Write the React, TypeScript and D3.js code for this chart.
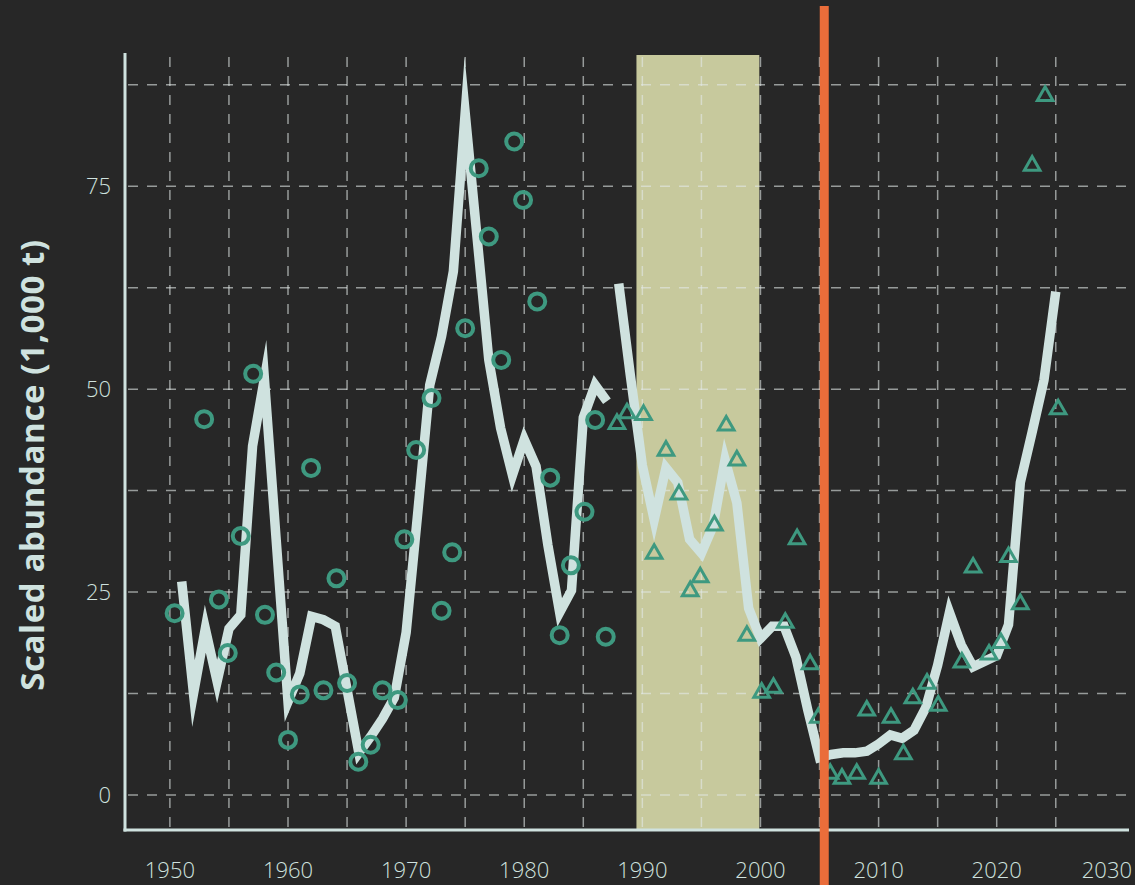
import React from 'react';
import * as d3 from 'd3';

// ---- data ----
const modelYearsA = [1951, 1952, 1953, 1954, 1955, 1956, 1957, 1958, 1959, 1960, 1961, 1962, 1963, 1964, 1965, 1966, 1967, 1968, 1969, 1970, 1971, 1972, 1973, 1974, 1975, 1976, 1977, 1978, 1979, 1980, 1981, 1982, 1983, 1984, 1985, 1986, 1987];
const modelValuesA = [26.3, 12.5, 20.5, 14.0, 20.5, 22.2, 43.0, 51.3, 31.4, 11.5, 15.0, 22.0, 21.6, 20.8, 13.0, 5.2, 7.2, 9.4, 12.0, 20.0, 35.0, 50.5, 56.5, 64.5, 84.0, 68.8, 53.6, 45.2, 39.4, 43.8, 40.5, 30.8, 22.5, 25.2, 46.5, 50.5, 48.5];

const modelYearsB = [1988, 1989, 1990, 1991, 1992, 1993, 1994, 1995, 1996, 1997, 1998, 1999, 2000, 2001, 2002, 2003, 2004, 2005, 2006, 2007, 2008, 2009, 2010, 2011, 2012, 2013, 2014, 2015, 2016, 2017, 2018, 2019, 2020, 2021, 2022, 2023, 2024, 2025];
const modelValuesB = [63.0, 51.5, 40.6, 33.9, 40.3, 38.5, 31.5, 29.8, 33.2, 41.3, 36.0, 23.0, 19.3, 20.8, 20.8, 17.0, 10.5, 4.6, 5.0, 5.2, 5.2, 5.4, 6.3, 7.4, 7.0, 8.0, 10.8, 16.0, 22.5, 18.5, 15.8, 16.5, 17.2, 21.0, 38.5, 44.7, 51.1, 62.0];

const circleYears = [1950.4, 1952.9, 1954.15, 1954.9, 1956.0, 1957.05, 1958.05, 1959.0, 1960.0, 1961.0, 1961.95, 1963.0, 1964.1, 1965.0, 1965.95, 1967.0, 1968.0, 1969.3, 1969.85, 1970.85, 1972.15, 1973.0, 1973.9, 1975.0, 1976.15, 1977.0, 1978.05, 1979.15, 1979.9, 1981.1, 1982.2, 1983.0, 1983.95, 1985.1, 1986.0, 1986.9];
const circleValues = [22.4, 46.3, 24.1, 17.5, 31.9, 51.9, 22.2, 15.1, 6.8, 12.4, 40.3, 12.9, 26.7, 13.8, 4.1, 6.2, 12.9, 11.7, 31.5, 42.5, 48.9, 22.7, 29.9, 57.5, 77.2, 68.8, 53.6, 80.5, 73.3, 60.8, 39.1, 19.7, 28.3, 34.9, 46.2, 19.5];

const triangleYears = [1987.85, 1988.7, 1990.1, 1991.0, 1992.0, 1993.1, 1994.05, 1994.9, 1996.1, 1997.1, 1998.0, 1998.85, 2000.1, 2001.1, 2002.1, 2003.1, 2004.2, 2004.9, 2005.9, 2006.9, 2008.15, 2009.0, 2010.0, 2011.05, 2012.1, 2012.9, 2014.1, 2015.05, 2017.05, 2018.0, 2019.35, 2020.35, 2021.0, 2022.0, 2023.0, 2024.1, 2025.2];
const triangleValues = [46.0, 47.3, 47.1, 30.0, 42.7, 37.3, 25.4, 27.1, 33.5, 45.8, 41.5, 19.9, 12.9, 13.5, 21.5, 31.8, 16.4, 9.8, 2.9, 2.3, 2.9, 10.7, 2.3, 9.8, 5.3, 12.2, 14.0, 11.3, 16.6, 28.3, 17.6, 19.0, 29.6, 23.8, 77.8, 86.4, 47.8];

const yTickValues = [0, 25, 50, 75];
const yGridValues = [0, 12.5, 25, 37.5, 50, 62.5, 75, 87.5];
const xTickValues = [1950, 1960, 1970, 1980, 1990, 2000, 2010, 2020, 2030];
const xGridValues = [1950, 1955, 1960, 1965, 1970, 1975, 1980, 1985, 1990, 1995, 2000, 2005, 2010, 2015, 2020, 2025];
const shadeRange = [1989.5, 1999.9];
const markerYear = 2005.4;
const yTitle = 'Scaled abundance (1,000 t)';

// ---- colours ----
const BG = '#272727';
const LIGHT = '#cfe2df';
const TEAL = '#3e9980';
const BEIGE = '#c7c99d';
const ORANGE = '#ea6d3a';
const GRID = '#e2eae8';

export default function App() {
  const W = 1135;
  const H = 885;
  const left = 125;
  const right = 1129;
  const top = 53;
  const bottom = 830;

  const x = d3.scaleLinear().domain([1946.2, 2031.2]).range([left, right]);
  const y = d3.scaleLinear().domain([-4.3, 91.4]).range([bottom, top]);

  const line = d3
    .line<[number, number]>()
    .x((d) => x(d[0]))
    .y((d) => y(d[1]));

  const segA: [number, number][] = modelYearsA.map((yr, i) => [yr, modelValuesA[i]]);
  const segB: [number, number][] = modelYearsB.map((yr, i) => [yr, modelValuesB[i]]);

  const triPath = 'M0,-6.8L7.8,6.8L-7.8,6.8Z';
  const tickFont = { fontFamily: '"Open Sans", sans-serif', fontWeight: 300, fontSize: 22 };

  return (
    <svg
      width={W}
      height={H}
      style={{ position: 'absolute', left: 0, top: 0, display: 'block' }}
    >
      <rect x={0} y={0} width={W} height={H} fill={BG} />

      {/* shaded period */}
      <rect
        x={x(shadeRange[0])}
        y={top + 2}
        width={x(shadeRange[1]) - x(shadeRange[0])}
        height={bottom - top - 3}
        fill={BEIGE}
      />

      {/* grid */}
      <g stroke={GRID} strokeOpacity={0.6} strokeWidth={1.5} strokeDasharray="10 9" fill="none">
        {yGridValues.map((v) => (
          <line key={'gy' + v} x1={left + 3} x2={right} y1={y(v)} y2={y(v)} />
        ))}
        {xGridValues.map((v) => (
          <line key={'gx' + v} x1={x(v)} x2={x(v)} y1={top + 4} y2={bottom - 1} />
        ))}
      </g>

      {/* axes */}
      <line x1={left} x2={left} y1={top} y2={bottom + 1.5} stroke={LIGHT} strokeWidth={3} />
      <line x1={left - 1.5} x2={right} y1={bottom} y2={bottom} stroke={LIGHT} strokeWidth={3} />

      {/* model line */}
      {[segA, segB].map((seg, i) => (
        <path
          key={'seg' + i}
          d={line(seg) || ''}
          fill="none"
          stroke={LIGHT}
          strokeWidth={9.5}
          strokeLinejoin="miter"
          strokeMiterlimit={12}
          strokeLinecap="butt"
        />
      ))}

      {/* survey 1: circles */}
      {circleYears.map((yr, i) => (
        <circle
          key={'c' + i}
          cx={x(yr)}
          cy={y(circleValues[i])}
          r={8}
          fill="none"
          stroke={TEAL}
          strokeWidth={4}
        />
      ))}

      {/* survey 2: triangles */}
      {triangleYears.map((yr, i) => (
        <path
          key={'t' + i}
          d={triPath}
          transform={`translate(${x(yr)},${y(triangleValues[i])})`}
          fill="none"
          stroke={TEAL}
          strokeWidth={3}
          strokeLinejoin="miter"
        />
      ))}

      {/* marker line */}
      <line x1={x(markerYear)} x2={x(markerYear)} y1={6} y2={H} stroke={ORANGE} strokeWidth={9} />

      {/* tick labels */}
      {xTickValues.map((v) => {
        const cx = x(v);
        const clamp = cx + 25 > W;
        return (
          <text
            key={'xt' + v}
            x={clamp ? W - 3 : cx}
            y={bottom + 48}
            textAnchor={clamp ? 'end' : 'middle'}
            fill={LIGHT}
            style={tickFont}
          >
            {v}
          </text>
        );
      })}
      {yTickValues.map((v) => (
        <text
          key={'yt' + v}
          x={left - 14}
          y={y(v) + 8}
          textAnchor="end"
          fill={LIGHT}
          style={tickFont}
        >
          {v}
        </text>
      ))}

      <text
        transform="translate(44,465) rotate(-90)"
        textAnchor="middle"
        fill={LIGHT}
        style={{ fontFamily: '"Open Sans", sans-serif', fontWeight: 700, fontSize: 33, letterSpacing: 0.6 }}
      >
        {yTitle}
      </text>
    </svg>
  );
}
